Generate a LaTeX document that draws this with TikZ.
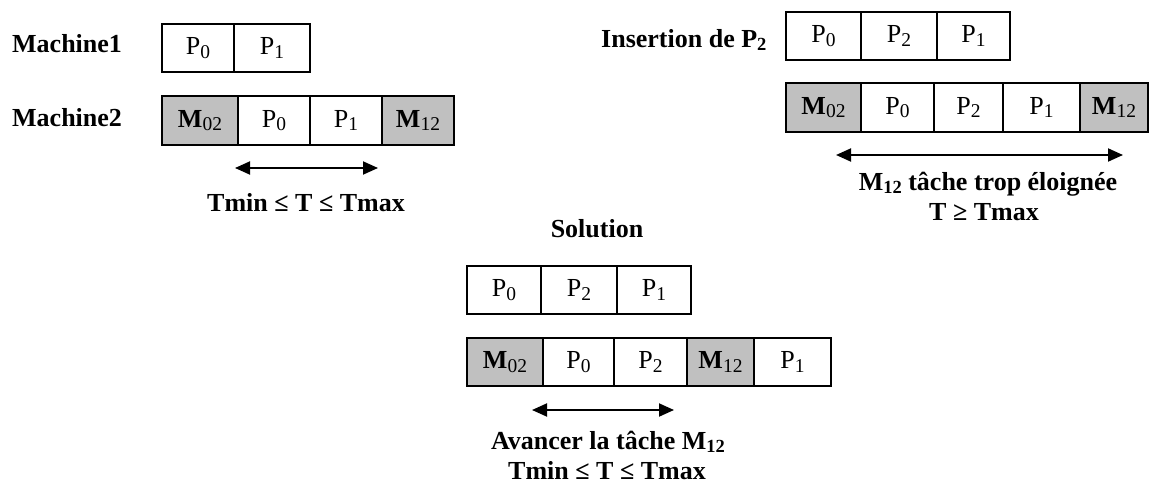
\documentclass[tikz,border=0pt]{standalone}
\usepackage{fontspec}
\setmainfont{Liberation Serif}
\usetikzlibrary{arrows.meta}
\definecolor{shade}{RGB}{192,192,192}
\newcommand\sbs[1]{\raisebox{-3pt}{\fontsize{18.5}{18.5}\selectfont #1}}
\newcommand\csbs[1]{\raisebox{-3.5pt}{\fontsize{19.5}{19.5}\selectfont #1}}
\newcommand\cellbox[7]{%
  \node[#2, minimum width={#4-#3}, minimum height={#6-#5}] (#1) at ({(#3+#4)/2},{(#5+#6)/2}) {#7};}
\tikzset{
  cell/.style={draw, line width=1.6pt, inner sep=0pt, outer sep=0pt, font=\fontsize{26}{30}\selectfont},
  gcell/.style={cell, fill=shade},
  lbl/.style={inner sep=0pt, font=\fontsize{26}{30}\selectfont\bfseries},
  span/.style={line width=1.9pt, {Triangle[length=15pt,width=13pt]}-{Triangle[length=15pt,width=13pt]}}
}
\begin{document}
\begin{tikzpicture}[x=1pt,y=-1pt]
\useasboundingbox (0,0) rectangle (1150,484);
% ---------- left group ----------
\node[lbl, anchor=base west] (lm1) at (12,53) {Machine1};
\node[lbl, anchor=base west] (lm2) at (12,126) {Machine2};
\cellbox{a1}{cell}{162}{234}{24}{72}{P\csbs{0}}
\cellbox{a2}{cell}{234}{310}{24}{72}{P\csbs{1}}
\cellbox{b1}{gcell}{162}{238}{96}{145}{\textbf{M}\csbs{02}}
\cellbox{b2}{cell}{238}{310}{96}{145}{P\csbs{0}}
\cellbox{b3}{cell}{310}{382}{96}{145}{P\csbs{1}}
\cellbox{b4}{gcell}{382}{454}{96}{145}{\textbf{M}\csbs{12}}
\coordinate (s1l) at (235,168);
\coordinate (s1r) at (378,168);
\draw[span] (s1l) -- (s1r);
\node[lbl, anchor=base] (t1) at (306,211) {Tmin ≤ T ≤ Tmax};
% ---------- right group ----------
\node[lbl, anchor=base west] (lins) at (601,48) {Insertion de P\sbs{2}};
\cellbox{c1}{cell}{786}{861}{12}{60}{P\csbs{0}}
\cellbox{c2}{cell}{861}{937}{12}{60}{P\csbs{2}}
\cellbox{c3}{cell}{937}{1010}{12}{60}{P\csbs{1}}
\cellbox{d1}{gcell}{786}{861}{83}{132}{\textbf{M}\csbs{02}}
\cellbox{d2}{cell}{861}{934}{83}{132}{P\csbs{0}}
\cellbox{d3}{cell}{934}{1003}{83}{132}{P\csbs{2}}
\cellbox{d4}{cell}{1003}{1080}{83}{132}{P\csbs{1}}
\cellbox{d5}{gcell}{1080}{1148}{83}{132}{\textbf{M}\csbs{12}}
\coordinate (s2l) at (836,155);
\coordinate (s2r) at (1123,155);
\draw[span] (s2l) -- (s2r);
\node[lbl, anchor=base] (t2a) at (988,190) {M\sbs{12} tâche trop éloignée};
\node[lbl, anchor=base] (t2b) at (984,220) {T ≥ Tmax};
% ---------- solution group ----------
\node[lbl, anchor=base] (lsol) at (597,237) {Solution};
\cellbox{e1}{cell}{467}{541}{266}{314}{P\csbs{0}}
\cellbox{e2}{cell}{541}{617}{266}{314}{P\csbs{2}}
\cellbox{e3}{cell}{617}{691}{266}{314}{P\csbs{1}}
\cellbox{f1}{gcell}{467}{543}{338}{386}{\textbf{M}\csbs{02}}
\cellbox{f2}{cell}{543}{614}{338}{386}{P\csbs{0}}
\cellbox{f3}{cell}{614}{687}{338}{386}{P\csbs{2}}
\cellbox{f4}{gcell}{687}{754}{338}{386}{\textbf{M}\csbs{12}}
\cellbox{f5}{cell}{754}{831}{338}{386}{P\csbs{1}}
\coordinate (s3l) at (532,410);
\coordinate (s3r) at (674,410);
\draw[span] (s3l) -- (s3r);
\node[lbl, anchor=base] (t3a) at (608,449) {Avancer la tâche M\sbs{12}};
\node[lbl, anchor=base] (t3b) at (607,479) {Tmin ≤ T ≤ Tmax};
\end{tikzpicture}
\end{document}
